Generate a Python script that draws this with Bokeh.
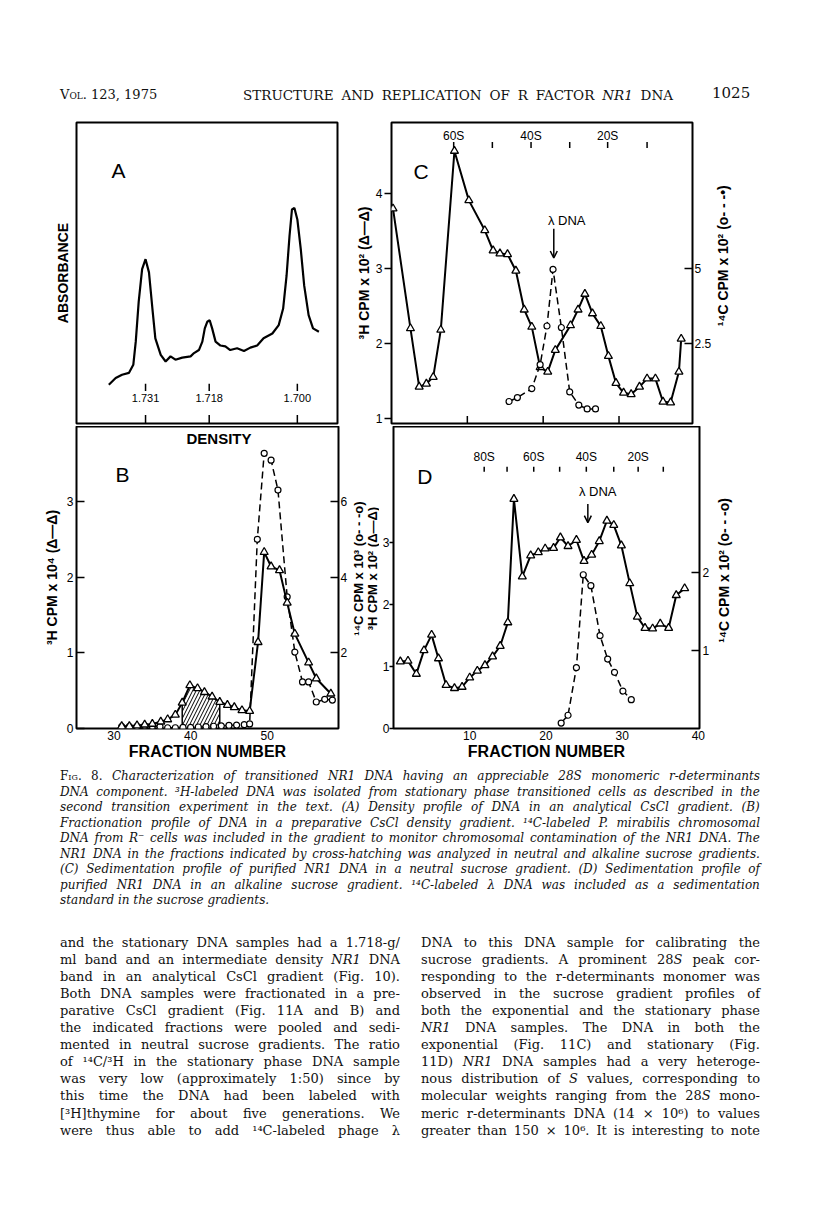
import math
import re
from bokeh.plotting import figure
from bokeh.layouts import column, row
from bokeh.models import (Range1d, LinearAxis, FixedTicker, Div, Arrow, OpenHead,
                          CustomJSTickFormatter)
from bokeh.core.properties import value
from bokeh.embed import file_html
from bokeh.resources import INLINE

SANS = "Liberation Sans"

# ---------------- Panel A : density profile ----------------
a_density = [1.7385, 1.7371, 1.7358, 1.7344, 1.7335, 1.7330, 1.7324, 1.7317, 1.7310, 1.7303,
             1.7296, 1.7290, 1.7279, 1.7269, 1.7259, 1.7249, 1.7235, 1.7218, 1.7211, 1.7201,
             1.7194, 1.7189, 1.7184, 1.7179, 1.7174, 1.7167, 1.7157, 1.7147, 1.7137, 1.7123,
             1.7109, 1.7096, 1.7082, 1.7069, 1.7051, 1.7038, 1.7029, 1.7022, 1.7016, 1.7011,
             1.7006, 1.7000, 1.6993, 1.6986, 1.6977, 1.6968, 1.6956]
a_absorbance = [0.129, 0.151, 0.162, 0.168, 0.195, 0.272, 0.404, 0.513, 0.546, 0.502,
                0.382, 0.283, 0.228, 0.206, 0.223, 0.212, 0.219, 0.223, 0.234, 0.244,
                0.272, 0.316, 0.338, 0.343, 0.316, 0.272, 0.259, 0.256, 0.244, 0.250,
                0.241, 0.252, 0.259, 0.283, 0.299, 0.327, 0.382, 0.491, 0.623, 0.711,
                0.716, 0.678, 0.579, 0.458, 0.360, 0.316, 0.305]
a_ticks = [1.731, 1.718, 1.700]
a_tick_labels = ["1.731", "1.718", "1.700"]

# ---------------- Panel B : CsCl fractionation ----------------
b_tri_fraction = [31, 32, 33, 34, 35, 36.1, 37.0, 38.0, 38.9, 39.9, 40.9, 41.8, 42.8, 43.8,
                  44.8, 45.7, 46.7, 47.7, 48.8, 49.6, 50.5, 51.6, 52.6, 53.6, 55.4, 56.4, 58.3]
b_tri_h3 = [0.03, 0.03, 0.04, 0.05, 0.06, 0.09, 0.12, 0.18, 0.34, 0.57, 0.53, 0.48, 0.42, 0.35,
            0.31, 0.28, 0.24, 0.23, 1.14, 2.33, 2.14, 2.09, 1.66, 1.25, 0.87, 0.66, 0.46]
b_cir_fraction = [31, 32, 33, 34, 35, 36, 37, 38, 39, 40, 41, 42, 43, 44, 45, 46, 47, 47.7,
                  48.7, 49.6, 50.5, 51.4, 52.6, 53.6, 54.6, 55.4, 56.4, 57.5, 58.5]
b_cir_c14 = [0.05, 0.05, 0.06, 0.07, 0.06, 0.05, 0.02, 0.02, 0.03, 0.03, 0.04, 0.05, 0.06, 0.07,
             0.08, 0.09, 0.10, 0.12, 5.0, 7.27, 7.09, 6.30, 3.48, 2.02, 1.23, 1.23, 0.70, 0.77, 0.75]
b_hatch_from, b_hatch_to = 38.9, 43.8
b_xticks = [30, 40, 50]
b_left_ticks = [0, 1, 2, 3]
b_right_ticks = [2, 4, 6]

# ---------------- Panel C : neutral sucrose ----------------
c_tri_fraction = [0.2, 2.5, 3.65, 4.6, 5.5, 6.5, 8.3, 10.2, 12.3, 13.4, 14.3, 15.3, 16.4, 17.5,
                  18.5, 19.6, 20.6, 21.6, 23.6, 24.6, 25.5, 26.5, 27.6, 28.6, 29.6, 30.6, 31.6,
                  32.7, 33.7, 34.8, 35.8, 36.8, 37.9, 38.2]
c_tri_h3 = [3.80, 2.20, 1.42, 1.46, 1.55, 2.18, 4.57, 3.91, 3.51, 3.24, 3.20, 3.19, 2.97, 2.45,
            2.22, 1.68, 1.62, 1.91, 2.24, 2.45, 2.66, 2.40, 2.23, 1.83, 1.47, 1.34, 1.32,
            1.42, 1.53, 1.53, 1.22, 1.21, 1.62, 2.06]
c_cir_fraction = [15.5, 16.6, 18.5, 19.6, 20.5, 21.3, 22.4, 23.5, 24.7, 25.8, 26.9]
c_cir_c14 = [0.56, 0.69, 0.99, 1.79, 3.08, 4.97, 3.03, 0.88, 0.44, 0.31, 0.31]
c_xticks = [10, 20, 30]
c_left_ticks = [1, 2, 3, 4]
c_right_ticks = [2.5, 5]
c_sed_ticks = [8.2, 13.3, 18.4, 23.5, 28.5, 33.7]
c_sed_label_pos = [8.2, 18.4, 28.5]
c_sed_labels = ["60S", "40S", "20S"]
c_lambda_fraction = 21.4

# ---------------- Panel D : alkaline sucrose ----------------
d_tri_fraction = [0.9, 1.9, 3.0, 4.0, 5.0, 5.9, 6.9, 8.0, 9.0, 10.0, 11.0, 12.0, 13.0, 14.0,
                  15.0, 15.8, 16.9, 18.0, 19.0, 19.9, 21.0, 21.9, 22.9, 24.0, 25.0, 26.0, 27.0,
                  28.0, 28.9, 29.9, 31.0, 32.0, 33.0, 34.0, 35.0, 36.1, 37.1, 38.2]
d_tri_h3 = [1.08, 1.09, 0.88, 1.26, 1.51, 1.13, 0.70, 0.65, 0.67, 0.82, 0.93, 1.02, 1.16, 1.33,
            1.71, 3.70, 2.45, 2.79, 2.84, 2.90, 2.91, 3.08, 2.94, 3.04, 2.70, 2.80, 3.02,
            3.35, 3.28, 2.95, 2.34, 1.80, 1.62, 1.61, 1.69, 1.62, 2.15, 2.26]
d_cir_fraction = [22.0, 22.9, 24.0, 24.9, 25.9, 27.1, 28.1, 29.0, 30.1, 31.2]
d_cir_c14 = [0.07, 0.17, 0.78, 1.97, 1.83, 1.19, 0.89, 0.72, 0.48, 0.37]
d_xticks = [10, 20, 30, 40]
d_left_ticks = [0, 1, 2, 3]
d_right_ticks = [1, 2]
d_sed_ticks = [11.9, 14.9, 18.4, 21.8, 25.3, 28.9, 32.1, 35.4]
d_sed_label_pos = [11.9, 18.4, 25.3, 32.1]
d_sed_labels = ["80S", "60S", "40S", "20S"]
d_lambda_fraction = 25.5

H3_KEY = "(\u0394\u2014\u0394)"
C14_KEY = "(o- - -o)"
LBL_H3_C = "\u00b3H CPM x 10\u00b2 " + H3_KEY
LBL_H3_B = "\u00b3H CPM x 10\u2074 " + H3_KEY
LBL_H3_D = "\u00b3H CPM x 10\u00b2 " + H3_KEY
LBL_C14_B = "\u00b9\u2074C CPM x 10\u00b3 " + C14_KEY
LBL_C14_C = "\u00b9\u2074C CPM x 10\u00b2 (o- - -\u2022)"
LBL_C14_D = "\u00b9\u2074C CPM x 10\u00b2 " + C14_KEY


def make_fig(w, h, xr, yr, bl, br, bt, bb, xloc, yloc="left"):
    p = figure(width=w, height=h, x_range=Range1d(*xr), y_range=Range1d(*yr),
               min_border_left=bl, min_border_right=br, min_border_top=bt,
               min_border_bottom=bb, x_axis_location=xloc, y_axis_location=yloc,
               output_backend="svg", toolbar_location=None)
    p.grid.visible = False
    p.outline_line_color = "black"
    p.outline_line_width = 2
    p.background_fill_color = "white"
    p.border_fill_color = "white"
    p.margin = (0, 0, 0, 0)
    return p


def style_axis(ax, ticks, tick_in, tick_out, label=None, lab_standoff=2, axlab_standoff=2,
               lab_size="12px", axlab_size="14px"):
    ax.ticker = FixedTicker(ticks=ticks)
    ax.axis_line_color = None
    ax.major_tick_in = tick_in
    ax.major_tick_out = tick_out
    ax.major_tick_line_color = "black"
    ax.major_tick_line_width = 1.5
    ax.minor_tick_line_color = None
    ax.major_label_text_font = SANS
    ax.major_label_text_font_size = lab_size
    ax.major_label_text_color = "black"
    ax.major_label_standoff = lab_standoff
    ax.axis_label = label
    ax.axis_label_text_font = SANS
    ax.axis_label_text_font_size = axlab_size
    ax.axis_label_text_font_style = "bold"
    ax.axis_label_text_color = "black"
    ax.axis_label_standoff = axlab_standoff


def label_strip(w, h, items, size="14px"):
    """A frameless figure that only carries rotated axis titles."""
    s = make_fig(w, h, (0, w), (0, h), 0, 0, 0, 0, None, None)
    s.outline_line_color = None
    for x, y, t in items:
        s.text(x=[x], y=[y], text=[t], angle=math.pi / 2, text_align="center",
               text_baseline="middle", text_font=value(SANS), text_font_size=value(size),
               text_font_style="bold", text_color="black")
    return s


def add_text(p, xs, ys, texts, size, bold=False, align="center", range_name="default"):
    p.text(x=xs, y=ys, text=texts, text_font=value(SANS), text_font_size=value(size),
           text_font_style="bold" if bold else "normal", text_align=align,
           text_baseline="middle", text_color="black", y_range_name=range_name)


def tri(p, xs, ys):
    p.line(xs, ys, line_color="black", line_width=2)
    p.scatter(xs, ys, marker="triangle", size=8, fill_color="white", line_color="black",
              line_width=1.3)


def cir(p, xs, ys, range_name="default"):
    p.line(xs, ys, line_color="black", line_width=1.5, line_dash="7 4", y_range_name=range_name)
    p.scatter(xs, ys, marker="circle", size=6, fill_color="white", line_color="black",
              line_width=1.2, y_range_name=range_name)


# ---------------- A ----------------
pA = make_fig(345, 314, (1.7451, 1.6918), (0, 1), 76, 8, 10, 0, None)
style_axis(pA.yaxis[0], [], 0, 0, "ABSORBANCE", lab_standoff=0, axlab_standoff=6)
pA.line(a_density, a_absorbance, line_color="black", line_width=2.2)
pA.segment(x0=a_ticks, y0=[0] * 3, x1=a_ticks, y1=[0.028] * 3, line_color="black", line_width=1.5)
pA.segment(x0=a_ticks, y0=[0.108] * 3, x1=a_ticks, y1=[0.132] * 3, line_color="black",
           line_width=1.5)
add_text(pA, a_ticks, [0.086] * 3, a_tick_labels, "11px")
add_text(pA, [1.7365], [0.842], ["A"], "21px")

# ---------------- C ----------------
pC = make_fig(369, 314, (0, 39.69), (0.93, 4.95), 46, 19, 10, 3, None)
style_axis(pC.yaxis[0], c_left_ticks, 0, 7, LBL_H3_C, lab_standoff=2, axlab_standoff=1)
pC.extra_y_ranges = {"c14": Range1d(2.5 * (0.93 - 1), 2.5 * (4.95 - 1))}
axC = LinearAxis(y_range_name="c14")
style_axis(axC, c_right_ticks, 8, 0, None, lab_standoff=2)
axC.formatter = CustomJSTickFormatter(code="return String(tick);")
pC.add_layout(axC, "right")
pC.segment(x0=c_xticks, y0=[0.93] * 3, x1=c_xticks, y1=[1.03] * 3, line_color="black",
           line_width=1.5)
n = len(c_sed_ticks)
pC.segment(x0=c_sed_ticks, y0=[4.61] * n, x1=c_sed_ticks, y1=[4.69] * n, line_color="black",
           line_width=1.5)
add_text(pC, c_sed_label_pos, [4.77] * 3, c_sed_labels, "12px")
tri(pC, c_tri_fraction, c_tri_h3)
cir(pC, c_cir_fraction, c_cir_c14, "c14")
add_text(pC, [3.9], [4.29], ["C"], "21px")
add_text(pC, [23.1], [3.64], ["\u03bb DNA"], "13px")
pC.add_layout(Arrow(end=OpenHead(size=7, line_width=1.5), x_start=c_lambda_fraction,
                    y_start=3.53, x_end=c_lambda_fraction, y_end=3.14, line_width=1.5))
sC = label_strip(31, 314, [(8, 175, LBL_C14_C)])

# ---------------- B ----------------
pB = make_fig(350, 338, (25.1, 59.3), (0, 3.99), 76, 12, 0, 36, "below")
style_axis(pB.xaxis[0], b_xticks, 0, 0, "FRACTION NUMBER", lab_standoff=2, axlab_standoff=0,
           axlab_size="16px")
style_axis(pB.yaxis[0], b_left_ticks, 8, 0, LBL_H3_B, lab_standoff=3, axlab_standoff=4)
pB.extra_y_ranges = {"c14": Range1d(0, 7.98)}
axB = LinearAxis(y_range_name="c14")
style_axis(axB, b_right_ticks, 8, 0, None, lab_standoff=2)
pB.add_layout(axB, "right")
hx = [x for x in b_tri_fraction if b_hatch_from <= x <= b_hatch_to]
hy = [y for x, y in zip(b_tri_fraction, b_tri_h3) if b_hatch_from <= x <= b_hatch_to]
pB.varea(x=hx, y1=[0.04] * len(hx), y2=hy, fill_color="white", fill_alpha=0,
         hatch_pattern="/", hatch_color="black", hatch_scale=7, hatch_weight=1)
pB.segment(x0=[hx[0], hx[-1]], y0=[0.04, 0.04], x1=[hx[0], hx[-1]], y1=[hy[0], hy[-1]],
           line_color="black", line_width=1.5)
cir(pB, b_cir_fraction, b_cir_c14, "c14")
tri(pB, b_tri_fraction, b_tri_h3)
add_text(pB, [31.1], [3.35], ["B"], "21px")
add_text(pB, [43.7], [3.83], ["DENSITY"], "15px", bold=True)

# strip between B and D: B's right title and D's left title
sMid = label_strip(29, 338, [(7.5, 179, LBL_C14_B), (21.5, 179, LBL_H3_D)], size="13px")

# ---------------- D ----------------
pD = make_fig(333, 338, (0, 40.15), (0, 4.87), 13, 12, 0, 36, "below")
style_axis(pD.xaxis[0], d_xticks, 0, 0, "FRACTION NUMBER", lab_standoff=2, axlab_standoff=0,
           axlab_size="16px")
style_axis(pD.yaxis[0], d_left_ticks, 0, 4, None, lab_standoff=0)
pD.extra_y_ranges = {"c14": Range1d(0, 3.87)}
axD = LinearAxis(y_range_name="c14")
style_axis(axD, d_right_ticks, 8, 0, None, lab_standoff=3)
pD.add_layout(axD, "right")
n = len(d_sed_ticks)
pD.segment(x0=d_sed_ticks, y0=[4.14] * n, x1=d_sed_ticks, y1=[4.22] * n, line_color="black",
           line_width=1.5)
add_text(pD, d_sed_label_pos, [4.38] * 4, d_sed_labels, "12px")
tri(pD, d_tri_fraction, d_tri_h3)
cir(pD, d_cir_fraction, d_cir_c14, "c14")
add_text(pD, [4.1], [4.06], ["D"], "21px")
add_text(pD, [26.8], [3.82], ["\u03bb DNA"], "13px")
pD.add_layout(Arrow(end=OpenHead(size=7, line_width=1.5), x_start=d_lambda_fraction,
                    y_start=3.62, x_end=d_lambda_fraction, y_end=3.32, line_width=1.5))
sD = label_strip(30, 338, [(11, 177, LBL_C14_D)])

# ---------------- text of the page ----------------
header_left = "<span style=font-variant:small-caps>Vol.</span> 123, 1975"
header_title = "STRUCTURE AND REPLICATION OF R FACTOR <i>NR1</i> DNA"
header_page = "1025"

caption_lines = [
    "<span style=font-style:normal;font-variant:small-caps>Fig.</span> <span style=font-style:normal>8.</span> Characterization of transitioned NR1 DNA having an appreciable 28S monomeric r-determinants",
    "DNA component. \u00b3H-labeled DNA was isolated from stationary phase transitioned cells as described in the",
    "second transition experiment in the text. (A) Density profile of DNA in an analytical CsCl gradient. (B)",
    "Fractionation profile of DNA in a preparative CsCl density gradient. \u00b9\u2074C-labeled P. mirabilis chromosomal",
    "DNA from R\u207b cells was included in the gradient to monitor chromosomal contamination of the NR1 DNA. The",
    "NR1 DNA in the fractions indicated by cross-hatching was analyzed in neutral and alkaline sucrose gradients.",
    "(C) Sedimentation profile of purified NR1 DNA in a neutral sucrose gradient. (D) Sedimentation profile of",
    "purified NR1 DNA in an alkaline sucrose gradient. \u00b9\u2074C-labeled \u03bb DNA was included as a sedimentation",
    "standard in the sucrose gradients.",
]

left_col = [
    "and the stationary DNA samples had a 1.718-g/",
    "ml band and an intermediate density <i>NR1</i> DNA",
    "band in an analytical CsCl gradient (Fig. 10).",
    "Both DNA samples were fractionated in a pre-",
    "parative CsCl gradient (Fig. 11A and B) and",
    "the indicated fractions were pooled and sedi-",
    "mented in neutral sucrose gradients. The ratio",
    "of \u00b9\u2074C/\u00b3H in the stationary phase DNA sample",
    "was very low (approximately 1:50) since by",
    "this time the DNA had been labeled with",
    "[\u00b3H]thymine for about five generations. We",
    "were thus able to add \u00b9\u2074C-labeled phage \u03bb",
]
right_col = [
    "DNA to this DNA sample for calibrating the",
    "sucrose gradients. A prominent 28<i>S</i> peak cor-",
    "responding to the r-determinants monomer was",
    "observed in the sucrose gradient profiles of",
    "both the exponential and the stationary phase",
    "<i>NR1</i> DNA samples. The DNA in both the",
    "exponential (Fig. 11C) and stationary (Fig.",
    "11D) <i>NR1</i> DNA samples had a very heteroge-",
    "nous distribution of <i>S</i> values, corresponding to",
    "molecular weights ranging from the 28<i>S</i> mono-",
    "meric r-determinants DNA (14 \u00d7 10\u2076) to values",
    "greater than 150 \u00d7 10\u2076. It is interesting to note",
]


def line_html(left, top, width, text, size, lh=16, italic=False, justify=True):
    style = ("position:absolute;left:%spx;top:%spx;font-size:%spx;line-height:%spx;"
             "white-space:nowrap;" % (left, top, size, lh))
    if italic:
        style += "font-style:italic;"
    if justify and width:
        style += "width:%spx;display:flex;justify-content:space-between;" % width
        words = re.split(r" (?![^<]*>)", text)
        inner = "".join("<span>%s</span>" % w for w in words)
    else:
        inner = text
    return '<div style="%s">%s</div>' % (style, inner)


def block(w, h, parts):
    return ('<div style="position:relative;width:%spx;height:%spx;overflow:visible;'
            'font-family:\'DejaVu Serif\',serif;color:#111;">%s</div>' % (w, h, "".join(parts)))


header_div = Div(text=block(808, 112, [
    line_html(60, 87, None, header_left, 13, justify=False),
    line_html(243, 87, 430, header_title, 13.5),
    line_html(712, 85, None, header_page, 15, justify=False),
]), width=808, height=112, margin=(0, 0, 0, 0))

cap_parts = []
for i, t in enumerate(caption_lines):
    last = i == len(caption_lines) - 1
    cap_parts.append(line_html(60, 4 + 15.5 * i, 700, t, 12, italic=True, justify=not last))
caption_div = Div(text=block(808, 150, cap_parts), width=808, height=150, margin=(0, 0, 0, 0))

body_parts = []
for i, t in enumerate(left_col):
    body_parts.append(line_html(60, 19.5 + 17.1 * i, 340, t, 13, lh=17))
for i, t in enumerate(right_col):
    body_parts.append(line_html(421, 19.5 + 17.1 * i, 339, t, 13, lh=17))
body_div = Div(text=block(808, 240, body_parts), width=808, height=240, margin=(0, 0, 0, 0))

layout = column(header_div, row(pA, pC, sC), row(pB, sMid, pD, sD), caption_div, body_div)
with open("out.html", "w", encoding="utf-8") as f:
    f.write(file_html(layout, INLINE))
